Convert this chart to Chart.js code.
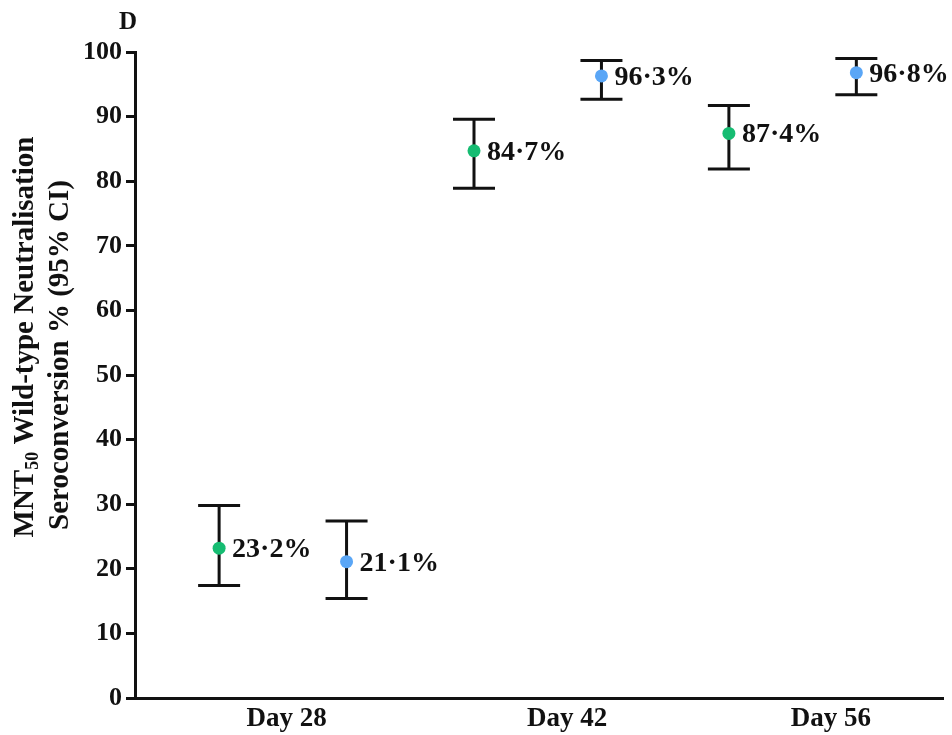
<!DOCTYPE html>
<html>
<head>
<meta charset="utf-8">
<script src="https://cdn.jsdelivr.net/npm/chart.js@4.4.1/dist/chart.umd.min.js"></script>
<style>
  html, body { margin: 0; padding: 0; background: #fff; }
  #wrap { width: 952px; height: 735px; }
</style>
</head>
<body>
<div id="wrap"><canvas id="c" width="952" height="735"></canvas></div>
<script>
// --- données ---
const timepoints = ['Day 28', 'Day 42', 'Day 56'];

const greenValues = [23.2, 84.7, 87.4];
const greenLower  = [17.4, 78.9, 81.9];
const greenUpper  = [29.8, 89.6, 91.7];

const blueValues = [21.1, 96.3, 96.8];
const blueLower  = [15.4, 92.7, 93.4];
const blueUpper  = [27.4, 98.7, 99.0];

const yTicks = [0, 10, 20, 30, 40, 50, 60, 70, 80, 90, 100];

const GREEN = '#16BC72';
const BLUE  = '#5AA6F6';
const SERIF = '"Liberation Serif", "Times New Roman", serif';

// position des points : groupe i -> vert en 2i, bleu en 2i+1
const greenPts = greenValues.map((v, i) => ({ x: 2 * i,     y: v, lo: greenLower[i], hi: greenUpper[i] }));
const bluePts  = blueValues.map((v, i) => ({ x: 2 * i + 1, y: v, lo: blueLower[i],  hi: blueUpper[i] }));

// emplacement des étiquettes de jour sur l'axe x (unités de l'axe)
const dayTickPos = [0.53, 2.73, 4.80];

// barres d'erreur (IC 95 %)
const errorBars = {
  id: 'errorBars',
  beforeDatasetsDraw(chart) {
    const ctx = chart.ctx;
    const y = chart.scales.y;
    ctx.save();
    ctx.strokeStyle = '#111';
    ctx.lineWidth = 3;
    chart.data.datasets.forEach((ds, di) => {
      const meta = chart.getDatasetMeta(di);
      ds.data.forEach((p, i) => {
        const px = meta.data[i].x;
        const top = y.getPixelForValue(p.hi);
        const bot = y.getPixelForValue(p.lo);
        ctx.beginPath();
        ctx.moveTo(px, top); ctx.lineTo(px, bot);
        ctx.moveTo(px - 21, top); ctx.lineTo(px + 21, top);
        ctx.moveTo(px - 21, bot); ctx.lineTo(px + 21, bot);
        ctx.stroke();
      });
    });
    ctx.restore();
  }
};

// étiquettes de valeur + titre de l'axe y + lettre du panneau
const annotations = {
  id: 'annotations',
  afterDatasetsDraw(chart) {
    const ctx = chart.ctx;
    ctx.save();
    ctx.fillStyle = '#111';
    ctx.font = `bold 28px ${SERIF}`;
    ctx.textAlign = 'left';
    ctx.textBaseline = 'alphabetic';
    chart.data.datasets.forEach((ds, di) => {
      const meta = chart.getDatasetMeta(di);
      ds.data.forEach((p, i) => {
        const txt = p.y.toFixed(1).replace('.', '\u00B7') + '%';
        ctx.fillText(txt, meta.data[i].x + 13, meta.data[i].y + 9);
      });
    });
    ctx.restore();
  },
  afterDraw(chart) {
    const ctx = chart.ctx;
    ctx.save();
    ctx.fillStyle = '#111';

    ctx.font = `bold 25px ${SERIF}`;
    ctx.textAlign = 'left';
    ctx.textBaseline = 'alphabetic';
    ctx.fillText('D', 119, 29);

    // titre y sur deux lignes, avec indice "50"
    const big = `bold 29px ${SERIF}`;
    const small = `bold 18px ${SERIF}`;
    const a = 'MNT', sub = '50', b = ' Wild-type Neutralisation';
    ctx.font = big;  const wa = ctx.measureText(a).width, wb = ctx.measureText(b).width;
    ctx.font = small; const ws = ctx.measureText(sub).width;

    ctx.save();
    ctx.translate(33, 337);
    ctx.rotate(-Math.PI / 2);
    let x0 = -(wa + ws + wb) / 2;
    ctx.font = big;   ctx.fillText(a, x0, 0);
    ctx.font = small; ctx.fillText(sub, x0 + wa, 5);
    ctx.font = big;   ctx.fillText(b, x0 + wa + ws, 0);
    ctx.restore();

    ctx.save();
    ctx.translate(68, 355);
    ctx.rotate(-Math.PI / 2);
    ctx.font = big;
    ctx.textAlign = 'center';
    ctx.fillText('Seroconversion % (95% CI)', 0, 0);
    ctx.restore();

    ctx.restore();
  }
};

new Chart(document.getElementById('c'), {
  type: 'scatter',
  data: {
    datasets: [
      { label: 'green', data: greenPts, backgroundColor: GREEN, pointRadius: 6.5, pointBorderWidth: 0, clip: false },
      { label: 'blue',  data: bluePts,  backgroundColor: BLUE,  pointRadius: 6.5, pointBorderWidth: 0, clip: false },
    ]
  },
  options: {
    responsive: false,
    animation: false,
    events: [],
    layout: { padding: { top: 52, right: 9, left: 0, bottom: 0 } },
    plugins: { legend: { display: false }, tooltip: { enabled: false } },
    scales: {
      x: {
        type: 'linear',
        min: -0.66,
        max: 5.68,
        afterBuildTicks: (scale) => { scale.ticks = dayTickPos.map(v => ({ value: v })); },
        afterFit: (scale) => { scale.height = 37; },
        grid: { display: false },
        border: { display: true, color: '#111', width: 3 },
        ticks: {
          color: '#111',
          padding: -3,
          maxRotation: 0,
          autoSkip: false,
          font: { family: SERIF, size: 27, weight: 'bold' },
          callback: (v, i) => timepoints[i],
        }
      },
      y: {
        min: 0,
        max: 100,
        afterBuildTicks: (scale) => { scale.ticks = yTicks.map(v => ({ value: v })); },
        afterFit: (scale) => { scale.width = 135; },
        grid: { drawOnChartArea: false, drawTicks: true, tickLength: 9, tickWidth: 3, tickColor: '#111' },
        border: { display: true, color: '#111', width: 3 },
        ticks: {
          color: '#111',
          padding: 4,
          font: { family: SERIF, size: 26, weight: 'bold' },
        }
      }
    }
  },
  plugins: [errorBars, annotations]
});
</script>
</body>
</html>
